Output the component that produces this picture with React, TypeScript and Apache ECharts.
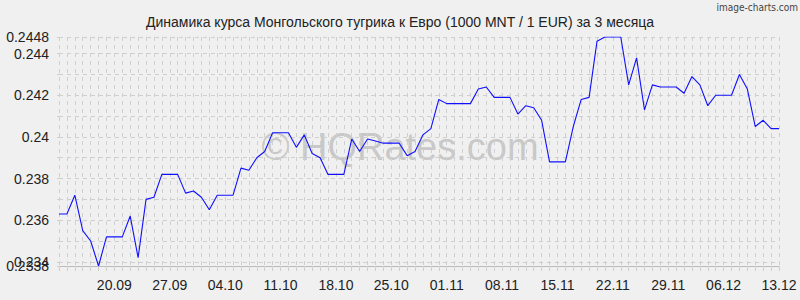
import React, { useEffect, useRef } from "react";
import * as echarts from "echarts";

const chartTitle =
  "Динамика курса Монгольского тугрика к Евро (1000 MNT / 1 EUR) за 3 месяца";
const watermark = "© HQRates.com";
const credit = "image-charts.com";

// first day of the series (13 September) and daily values
const startMonth = 9;
const startDay = 13;

const rates = [
  0.2363, 0.2363, 0.2372, 0.2355, 0.235, 0.2338, 0.2352, 0.2352, 0.2352, 0.2362,
  0.2342, 0.237, 0.2371, 0.2382, 0.2382, 0.2382, 0.2373, 0.2374, 0.2371, 0.2365,
  0.2372, 0.2372, 0.2372, 0.2385, 0.2384, 0.239, 0.2393, 0.2402, 0.2402, 0.2402,
  0.2395, 0.2401, 0.2392, 0.239, 0.2382, 0.2382, 0.2382, 0.2399, 0.2393, 0.2399,
  0.2398, 0.2397, 0.2397, 0.2397, 0.2391, 0.2393, 0.2401, 0.2404, 0.2418, 0.2416,
  0.2416, 0.2416, 0.2416, 0.2423, 0.2424, 0.2419, 0.2419, 0.2419, 0.2411, 0.2415,
  0.2414, 0.2408, 0.2388, 0.2388, 0.2388, 0.2405, 0.2418, 0.2419, 0.2446, 0.2448,
  0.2448, 0.2448, 0.2425, 0.2438, 0.2413, 0.2425, 0.2424, 0.2424, 0.2424, 0.2421,
  0.2429, 0.2425, 0.2415, 0.242, 0.242, 0.242, 0.243, 0.2423, 0.2405, 0.2408,
  0.2404, 0.2404,
];

const xTickLabels = [
  "20.09", "27.09", "04.10", "11.10", "18.10", "25.10", "01.11",
  "08.11", "15.11", "22.11", "29.11", "06.12", "13.12",
];

const yMin = 0.2338;
const yMax = 0.2448;
const yGridValues = [
  0.2338, 0.234, 0.235, 0.236, 0.237, 0.238, 0.239, 0.24, 0.241, 0.242, 0.243,
  0.244, 0.2448,
];
const yLabelValues = [0.234, 0.236, 0.238, 0.24, 0.242, 0.244, 0.2448];
const yMinLabelValues = [0.2338];

const pad = (n: number) => (n < 10 ? "0" + n : String(n));
const dates: string[] = rates.map((_, i) => {
  const d = new Date(Date.UTC(2001, startMonth - 1, startDay + i));
  return pad(d.getUTCDate()) + "." + pad(d.getUTCMonth() + 1);
});

const FONT = "'Liberation Sans', Arial, sans-serif";
const GRID = "#cfcfcf";

const labelStyle = {
  showMinLabel: true,
  showMaxLabel: true,
  hideOverlap: false,
  margin: 10,
  fontSize: 14,
  fontFamily: FONT,
  color: "#222",
};

export default function App() {
  const ref = useRef<HTMLDivElement>(null);
  useEffect(() => {
    document.body.style.margin = "0";
    if (!ref.current) return;
    const chart = echarts.init(ref.current, null, { renderer: "svg" });
    chart.setOption({
      animation: false,
      backgroundColor: "#f0f0f0",
      textStyle: { fontFamily: FONT },
      title: {
        text: chartTitle,
        left: "center",
        top: 10,
        textStyle: { fontFamily: FONT, fontSize: 14, fontWeight: "normal", color: "#222" },
      },
      grid: { left: 59, right: 21, top: 37, bottom: 34, containLabel: false },
      graphic: [
        {
          type: "text",
          left: "center",
          top: 128,
          z: 0,
          silent: true,
          style: {
            text: watermark,
            fontFamily: FONT,
            fontSize: 38,
            fill: "rgba(150,150,150,0.45)",
          },
        },
        {
          type: "text",
          right: 2,
          top: 2,
          style: {
            text: credit,
            fontFamily: "'DejaVu Sans Condensed', sans-serif",
            fontSize: 10,
            fill: "#444",
          },
        },
      ],
      xAxis: {
        type: "category",
        boundaryGap: false,
        data: dates,
        axisLine: { show: true, lineStyle: { color: "#bbbbbb", width: 1 } },
        axisTick: {
          show: true,
          interval: 0,
          length: 5,
          lineStyle: { color: GRID },
        },
        splitLine: {
          show: true,
          interval: 0,
          lineStyle: { color: GRID, type: [4, 4], width: 1 },
        },
        axisLabel: {
          interval: (_i: number, v: string) => xTickLabels.includes(v),
          margin: 12,
          fontSize: 14,
          fontFamily: FONT,
          color: "#222",
        },
      },
      yAxis: [
        {
          type: "value",
          min: yMin,
          max: yMax,
          axisLine: { show: false },
          axisTick: {
            show: true,
            length: 2,
            customValues: yGridValues,
            lineStyle: { color: GRID },
          },
          splitLine: {
            show: true,
            lineStyle: { color: GRID, type: [4, 4], width: 1 },
          },
          axisLabel: { ...labelStyle, customValues: yLabelValues },
        },
        {
          type: "value",
          position: "left",
          min: yMin,
          max: yMax,
          axisLine: { show: false },
          axisTick: { show: false, customValues: yMinLabelValues },
          splitLine: { show: false },
          axisLabel: { ...labelStyle, customValues: yMinLabelValues },
        },
      ],
      series: [
        {
          type: "line",
          data: rates,
          symbol: "none",
          z: 3,
          lineStyle: { color: "#1010ff", width: 1.1 },
        },
      ],
    });
    return () => chart.dispose();
  }, []);
  return <div ref={ref} style={{ width: 800, height: 300 }} />;
}
